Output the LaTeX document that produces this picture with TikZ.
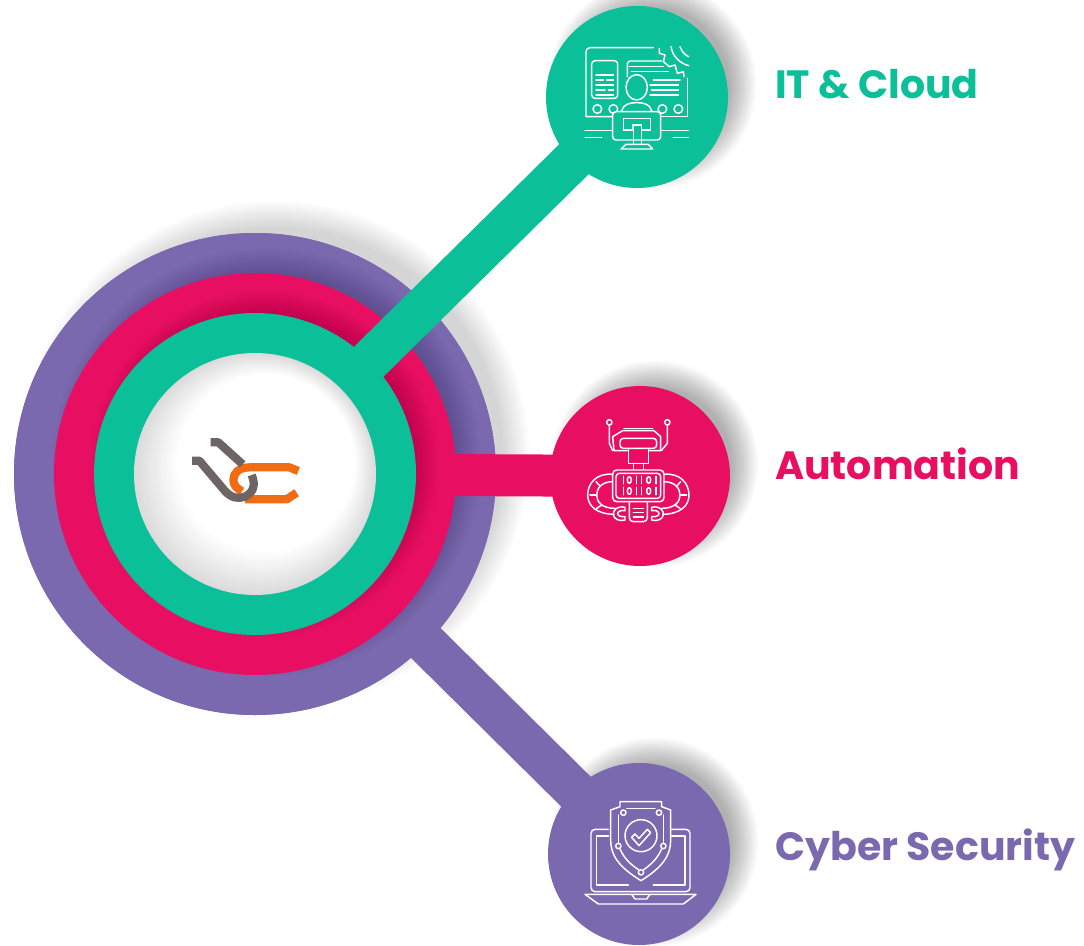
\documentclass[tikz,border=0pt]{standalone}
\usepackage{fontspec}
\setmainfont{Poppins}
\definecolor{cgreen}{HTML}{0BBF98}
\definecolor{cpink}{HTML}{E80F63}
\definecolor{cpurple}{HTML}{7A69AE}
\definecolor{lgrey}{HTML}{6D6565}
\definecolor{lorange}{HTML}{F26A12}
\newcommand{\softshadow}[4]{% x y r opacity
  \foreach \k in {0,...,13}{
    \fill[black,opacity=#4] ({#1},{#2}) circle[radius={(#3+13-2*\k)*1}];
  }}
\tikzset{
  disc/.style={circle,inner sep=0pt,outer sep=0pt,minimum size=#1*0.75pt},
  bar/.style={line width=31.5pt,line cap=butt},
  lbl/.style={anchor=west,inner sep=0pt,font=\bfseries\fontsize{29.6}{34}\selectfont},
  ic/.style={draw=white,line width=1.1pt,line cap=round,line join=round,fill=none},
  zoomic/.style={x=0.25pt,y=-0.25pt},
}
\begin{document}
\begin{tikzpicture}[x=0.75pt,y=-0.75pt]
\useasboundingbox (0,0) rectangle (1084,945);
\fill[white] (0,0) rectangle (1084,945);
% soft shadows
\softshadow{652}{85}{91}{0.022}
\softshadow{655}{464}{90}{0.022}
\softshadow{654}{842}{91}{0.022}
\softshadow{275}{455}{241}{0.012}
% leaves
\node[disc=182,fill=cgreen] (itc) at (637,97) {};
\node[disc=180,fill=cpink] (aut) at (640,476) {};
\node[disc=182,fill=cpurple] (cyb) at (639,854) {};
% hub
\node[disc=482,fill=cpurple] (hub) at (255,474) {};
\draw[bar,cpurple] (hub.center) -- (cyb.center);
\node[disc=482,fill=cpurple] at (hub.center) {};
\begin{scope}
\clip (hub.center) circle[radius=241];
\softshadow{267}{462}{201}{0.013}
\end{scope}
\draw[bar,cpink] (hub.center) -- (aut.center);
\node[disc=402,fill=cpink] (hubb) at (hub.center) {};
\begin{scope}
\clip (hub.center) circle[radius=201];
\softshadow{265}{464}{161}{0.012}
\end{scope}
\draw[bar,cgreen] (hub.center) -- (itc.center);
\node[disc=322,fill=cgreen] (hubc) at (hub.center) {};
\node[disc=242,fill=black!14] (hubd) at (hub.center) {};
\foreach \k [evaluate=\k as \p using 14-0.7*\k, evaluate=\k as \q using 0.55*\k, evaluate=\k as \s using 121-1.6*\k] in {1,...,20}{
  \fill[black!\p] (255+\q,474-\q) circle[radius=\s];
}
% labels
\node[lbl,text=cgreen] (t1) at (775,84) {IT \& Cloud};
\node[lbl,text=cpink] (t2) at (775,464) {Automation};
\node[lbl,text=cpurple] (t3) at (775,850) {Cyber Security};
% logo
\begin{scope}[shift={(170,410)},zoomic]
\draw[lorange,line width=6.2pt,line cap=butt,line join=round] (385,183) -- (358,172) -- (240,172) .. controls (205,172) and (190,190) .. (190,210) .. controls (190,225) and (200,235) .. (216,244);
\draw[lorange,line width=6.2pt,line cap=butt,line join=round] (225,268) -- (350,268) -- (380,248);
\draw[lgrey,line width=6.2pt,line cap=butt,line join=round] (122,97) -- (145,97) -- (218,163);
\draw[lgrey,line width=6.2pt,line cap=butt,line join=round] (66,152) -- (88,152) -- (165,243) .. controls (185,265) and (205,267) .. (225,260) .. controls (250,248) and (258,225) .. (245,195);
\end{scope}
% icon: IT & Cloud
\begin{scope}[shift={(540,0)},zoomic]
\draw[ic] (340,143) -- (150,143) arc[start angle=90,end angle=180,x radius=12,y radius=-12] -- (138,350) -- (215,350);
\draw[ic] (443,235) -- (443,350) -- (365,350);
\draw[ic,rounded corners=2.5pt] (155,182) rectangle (233,295);
\foreach \a/\b/\c in {168/220/225,168/190/240,200/220/240,168/220/255,168/195/270,205/220/270,168/220/285}{\draw[ic] (\a,\c) -- (\b,\c);}
\draw[ic] (262,230) -- (262,190) -- (268,183) -- (365,183);
\foreach \a/\b/\c in {268/370/200,275/385/215,340/420/240,330/415/255,335/415/270,330/415/285}{\draw[ic] (\a,\c) -- (\b,\c);}
\draw[ic] (290,262) ellipse[x radius=32,y radius=38];
\draw[ic] (245,332) .. controls (250,312) and (270,308) .. (290,308) .. controls (310,308) and (330,312) .. (335,332);
\foreach \a in {172,220,367,415}{\draw[ic] (\a,327) circle[radius=13];}
\draw[ic,rounded corners=2.5pt,fill=cgreen] (218,335) rectangle (362,420);
\draw[ic] (250,390) -- (250,355) -- (332,355) -- (332,390) -- (305,390) -- (305,375) -- (278,375) -- (278,390) -- (250,390);
\draw[ic] (280,376) -- (280,432); \draw[ic] (304,376) -- (304,432);
\draw[ic] (243,447) -- (338,447) -- (325,433) -- (258,433) -- cycle;
\foreach \a/\b/\c in {135/215/392,135/185/412,365/445/392,400/445/412}{\draw[ic] (\a,\c) -- (\b,\c);}
\draw[ic] (358,145) -- (358,160) -- (375,165) -- (370,185) -- (388,200) -- (405,195) -- (412,220) -- (430,215) -- (432,230);
\draw[ic] (393,140) .. controls (398,170) and (420,190) .. (446,197);
\draw[ic] (420,140) .. controls (425,155) and (435,165) .. (446,170);
\end{scope}
% icon: Automation
\begin{scope}[shift={(540,380)},zoomic]
\draw[ic] (208,127) circle[radius=8]; \draw[ic] (382,127) circle[radius=8];
\draw[ic] (208,135) -- (208,190) -- (218,212); \draw[ic] (382,135) -- (382,190) -- (364,212);
\draw[ic] (262,212) -- (222,212) -- (218,170) -- (248,152) -- (342,152) -- (362,170) -- (362,212) -- (328,212);
\draw[ic] (252,145) -- (338,145);
\draw[ic,rounded corners=2.5pt] (240,175) rectangle (350,205);
\draw[ic] (265,207) -- (265,250) -- (325,250) -- (325,207);
\draw[ic] (280,250) -- (280,268); \draw[ic] (310,250) -- (310,268);
\draw[ic,rounded corners=3pt] (218,270) rectangle (372,365);
\draw[ic,rounded corners=2.5pt] (228,280) rectangle (362,355);
\foreach \r in {300,333}{
  \foreach \a in {250,290,305,348}{\draw[ic] (\a,\r-11) -- (\a,\r+11);}
  \foreach \a in {268,326}{\draw[ic] (\a,\r) ellipse[x radius=6,y radius=10];}
}
\draw[ic] (218,283) .. controls (170,278) and (143,310) .. (143,345) .. controls (143,378) and (170,402) .. (222,403);
\draw[ic] (218,305) .. controls (185,305) and (170,325) .. (170,345) .. controls (170,365) and (185,385) .. (225,385);
\draw[ic] (372,283) .. controls (420,278) and (447,310) .. (447,345) .. controls (447,378) and (420,402) .. (368,403);
\draw[ic] (372,305) .. controls (405,305) and (420,325) .. (420,345) .. controls (420,365) and (405,385) .. (365,385);
\foreach \a/\b/\c/\d in {170/345/150/345,180/318/168/305,185/375/170/385,420/345/440/345,410/318/422/305,405/375/420/385}{\draw[ic] (\a,\b) -- (\c,\d);}
\draw[ic,rounded corners=3pt] (268,365) -- (268,425) -- (322,425) -- (322,365);
\foreach \c in {385,398,411}{\draw[ic] (280,\c) -- (310,\c);}
\draw[ic] (255,382) .. controls (230,376) and (218,392) .. (220,405) .. controls (222,418) and (240,425) .. (255,420) -- (255,410) .. controls (240,412) and (232,405) .. (233,400) .. controls (234,393) and (245,390) .. (255,392) -- cycle;
\draw[ic] (335,382) .. controls (360,376) and (372,392) .. (370,405) .. controls (368,418) and (350,425) .. (335,420) -- (335,410) .. controls (350,412) and (358,405) .. (357,400) .. controls (356,393) and (345,390) .. (335,392) -- cycle;
\end{scope}
% icon: Cyber Security
\begin{scope}[shift={(540,750)},zoomic]
\draw[ic,rounded corners=3pt] (205,238) -- (153,238) -- (153,425) -- (450,425) -- (450,238) -- (395,238);
\draw[ic] (205,258) -- (170,258) -- (170,405) -- (265,405);
\draw[ic] (395,258) -- (435,258) -- (435,405) -- (340,405);
\draw[ic] (135,433) -- (468,433) -- (430,462) -- (175,462) -- cycle;
\draw[ic] (275,433) -- (285,447) -- (320,447) -- (330,433);
\draw[ic] (303,392) .. controls (235,350) and (212,315) .. (212,270) -- (212,180) -- (240,170) -- (240,155) -- (365,155) -- (365,170) -- (392,180) -- (392,270) .. controls (392,315) and (370,350) .. (303,392);
\foreach \a/\b in {250/188,357/188,235/288,370/288,303/367}{\draw[ic] (\a,\b) circle[radius=8];}
\draw[ic] (260,175) -- (345,175);
\draw[ic] (235,195) -- (235,280); \draw[ic] (370,195) -- (370,280);
\draw[ic] (240,297) .. controls (255,330) and (275,345) .. (297,360);
\draw[ic] (365,297) .. controls (350,330) and (330,345) .. (310,360);
\draw[ic] (303,257) circle[radius=48];
\draw[ic] (275,262) -- (285,252) -- (297,265) -- (322,238) -- (332,248) -- (297,287) -- cycle;
\end{scope}
\end{tikzpicture}
\end{document}
